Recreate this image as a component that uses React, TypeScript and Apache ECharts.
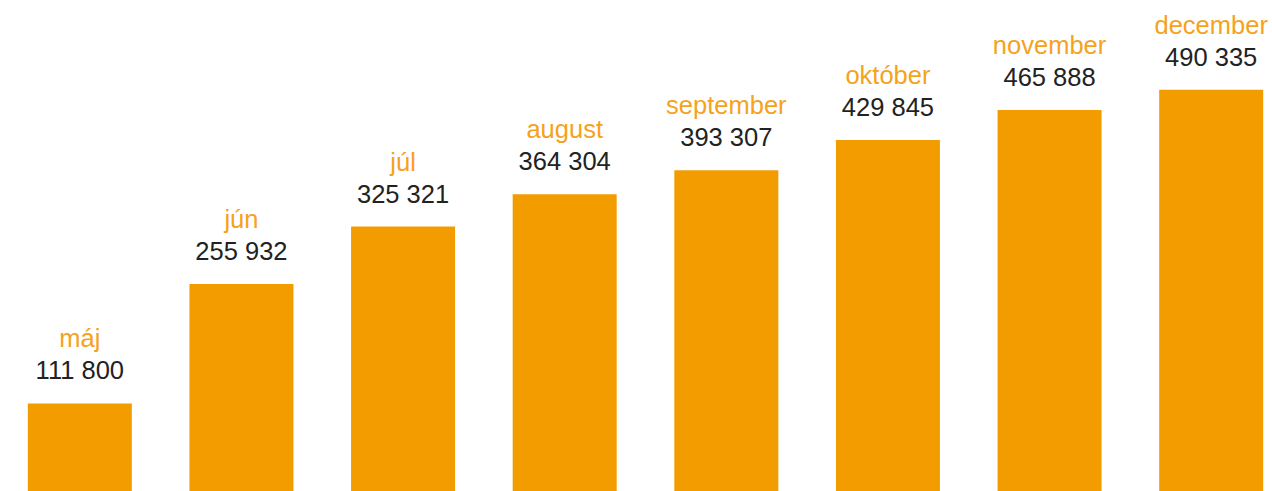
import React, { useEffect, useRef } from "react";
import * as echarts from "echarts";

const months = ["máj", "jún", "júl", "august", "september", "október", "november", "december"];
const values = [111800, 255932, 325321, 364304, 393307, 429845, 465888, 490335];

const ORANGE = "#F39C00";

function fmt(v: number): string {
  return String(v).replace(/\B(?=(\d{3})+(?!\d))/g, " ");
}

export default function App() {
  const ref = useRef<HTMLDivElement>(null);
  useEffect(() => {
    document.body.style.margin = "0";
    document.body.style.overflow = "hidden";
    const chart = echarts.init(ref.current!, undefined, { renderer: "svg" });
    chart.setOption({
      animation: false,
      grid: { left: 0, right: 0, top: 0, bottom: 0 },
      xAxis: {
        type: "category",
        data: months,
        show: false,
      },
      yAxis: {
        type: "value",
        min: 0,
        max: 600000,
        show: false,
      },
      series: [
        {
          type: "bar",
          data: values,
          barWidth: 104,
          itemStyle: { color: ORANGE },
          label: {
            show: true,
            position: "top",
            distance: 17,
            formatter: (p: any) => `{m|${months[p.dataIndex]}}\n{v|${fmt(p.value)}}`,
            rich: {
              m: {
                fontFamily: "Liberation Sans",
                fontSize: 25.5,
                lineHeight: 32,
                color: "#F5A21C",
              },
              v: {
                fontFamily: "Liberation Sans",
                fontSize: 25.5,
                lineHeight: 32,
                color: "#222222",
              },
            },
          },
        },
      ],
    });
    return () => chart.dispose();
  }, []);
  return (
    <div style={{ position: "absolute", left: 0, top: 0, width: 1272, height: 491, overflow: "hidden" }}>
      <div
        ref={ref}
        style={{ position: "absolute", left: -1, top: -1, width: 1293, height: 497 }}
      />
    </div>
  );
}
